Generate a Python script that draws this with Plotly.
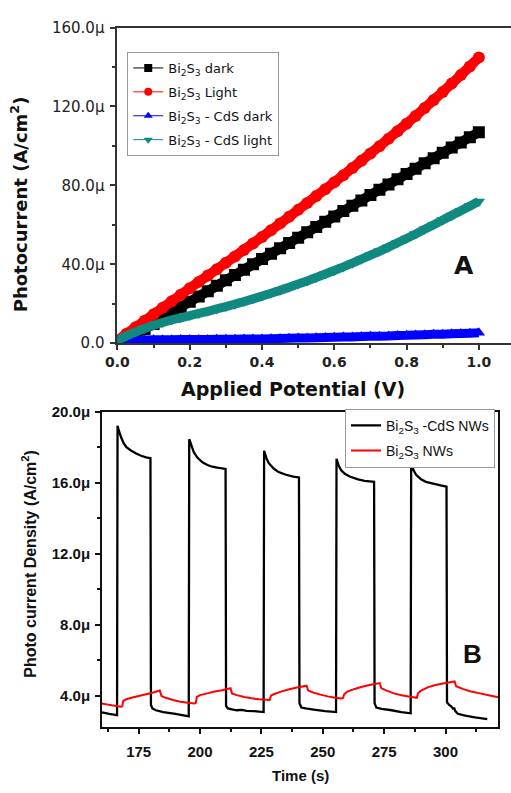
import plotly.graph_objects as go

# ---------------- Panel A: photocurrent vs applied potential ----------------
potential_v = [0.000, 0.025, 0.050, 0.075, 0.100, 0.125, 0.150, 0.175, 0.200, 0.225,
               0.250, 0.275, 0.300, 0.325, 0.350, 0.375, 0.400, 0.425, 0.450, 0.475,
               0.500, 0.525, 0.550, 0.575, 0.600, 0.625, 0.650, 0.675, 0.700, 0.725,
               0.750, 0.775, 0.800, 0.825, 0.850, 0.875, 0.900, 0.925, 0.950, 0.975, 1.000]

# current densities in uA/cm^2
bi2s3_dark = [1.5, 2.4, 4.4, 7.2, 9.8, 12.7, 15.5, 18.3, 21.0, 23.7,
              26.4, 29.1, 31.9, 34.6, 37.3, 40.0, 42.7, 45.4, 48.1, 50.8,
              53.5, 56.2, 58.9, 61.6, 64.3, 67.0, 69.7, 72.4, 75.1, 77.8,
              80.5, 83.1, 85.8, 88.5, 91.2, 93.8, 96.5, 99.2, 101.8, 104.4, 107.0]
bi2s3_light = [1.5, 4.8, 8.1, 11.4, 14.7, 18.0, 21.3, 24.6, 27.9, 31.1,
               34.3, 37.5, 40.8, 44.0, 47.3, 50.6, 53.9, 57.3, 60.7, 64.1,
               67.6, 71.1, 74.6, 78.1, 81.6, 85.2, 88.8, 92.5, 96.2, 99.9,
               103.7, 107.5, 111.3, 115.2, 119.2, 123.3, 127.4, 131.6, 135.9, 140.3, 144.8]
bi2s3_cds_dark = [0.8, 1.1, 1.4, 1.6, 1.8, 1.8, 1.8, 1.9, 1.9, 1.9,
                  1.9, 2.0, 2.0, 2.0, 2.1, 2.1, 2.2, 2.3, 2.4, 2.5,
                  2.6, 2.7, 2.8, 2.9, 3.0, 3.1, 3.2, 3.4, 3.5, 3.6,
                  3.7, 3.9, 4.0, 4.2, 4.3, 4.5, 4.6, 4.8, 4.9, 5.1, 5.3]
bi2s3_cds_light = [1.5, 3.7, 5.7, 7.5, 9.1, 10.5, 11.8, 12.9, 14.0, 15.1,
                   16.2, 17.4, 18.6, 19.8, 21.1, 22.5, 23.9, 25.3, 26.8, 28.4,
                   30.0, 31.6, 33.3, 35.1, 36.9, 38.7, 40.6, 42.6, 44.6, 46.6,
                   48.7, 50.9, 53.1, 55.4, 57.8, 60.1, 62.5, 64.8, 67.2, 69.5, 71.9]

a_xtick_vals = [0.0, 0.2, 0.4, 0.6, 0.8, 1.0]
a_xtick_text = ["0.0", "0.2", "0.4", "0.6", "0.8", "1.0"]
a_ytick_vals = [0, 40, 80, 120, 160]
a_ytick_text = ["0.0", "40.0\u03bc", "80.0\u03bc", "120.0\u03bc", "160.0\u03bc"]

# ---------------- Panel B: transient photocurrent under chopped light ----------------
time_cds = [160.0, 163.0, 166.2, 166.4, 167.0, 168.0, 169.0, 170.0, 172.0, 174.0, 176.0, 178.0, 179.8,
            180.0, 180.6, 182.0, 185.0, 190.0, 195.4,
            195.6, 196.5, 197.5, 199.0, 201.0, 203.0, 205.0, 207.0, 210.4,
            210.6, 211.3, 213.0, 215.0, 217.0, 219.0, 222.0, 225.9,
            226.1, 227.0, 228.0, 230.0, 232.0, 235.0, 238.0, 240.3,
            240.5, 241.3, 243.0, 247.0, 251.0, 255.4,
            255.6, 256.5, 257.5, 259.0, 261.0, 264.0, 267.0, 270.9,
            271.1, 271.8, 274.0, 278.0, 282.0, 285.8,
            286.0, 287.0, 288.0, 290.0, 292.0, 295.0, 298.0, 300.4,
            300.6, 301.5, 302.5, 303.0, 303.6, 304.0, 305.0, 308.0, 312.0, 317.0]
current_cds = [3.08, 3.00, 2.93, 19.20, 18.90, 18.50, 18.20, 18.00, 17.80, 17.65, 17.52, 17.43, 17.38,
               3.50, 3.30, 3.20, 3.10, 3.00, 2.86,
               18.45, 18.10, 17.70, 17.40, 17.15, 17.00, 16.90, 16.85, 16.78,
               3.45, 3.30, 3.25, 3.20, 3.22, 3.16, 3.15, 3.10,
               17.80, 17.40, 17.10, 16.80, 16.60, 16.45, 16.35, 16.30,
               3.60, 3.35, 3.30, 3.22, 3.15, 3.10,
               17.35, 16.95, 16.70, 16.50, 16.35, 16.20, 16.10, 16.05,
               3.60, 3.35, 3.28, 3.20, 3.10, 3.03,
               17.10, 16.70, 16.45, 16.20, 16.05, 15.95, 15.85, 15.78,
               3.65, 3.50, 3.40, 3.30, 3.30, 3.15, 3.00, 2.90, 2.80, 2.70]

time_bare = [160.0, 162.0, 164.0, 166.0, 167.8, 168.3, 168.7, 170.0, 172.0, 175.0, 178.0, 181.0, 183.6,
             184.3, 186.0, 189.0, 192.0, 195.0, 197.8, 198.3, 198.7, 200.0, 203.0, 206.0, 209.0, 212.4,
             213.0, 215.0, 218.0, 221.0, 224.0, 227.0, 228.4, 228.9, 230.0, 233.0, 236.0, 239.0, 243.4,
             244.0, 246.0, 249.0, 252.0, 255.0, 257.8, 258.3, 258.7, 260.0, 263.0, 266.0, 269.0, 273.2,
             273.8, 276.0, 279.0, 282.0, 285.0, 288.3, 288.8, 290.0, 293.0, 296.0, 299.0, 303.7,
             304.3, 307.0, 310.0, 314.0, 318.0, 321.5]
current_bare = [3.58, 3.53, 3.48, 3.44, 3.40, 3.42, 3.72, 3.82, 3.90, 4.00, 4.10, 4.20, 4.31,
                4.00, 3.90, 3.78, 3.68, 3.62, 3.58, 3.62, 3.95, 4.05, 4.15, 4.25, 4.33, 4.44,
                4.15, 4.05, 3.95, 3.87, 3.82, 3.79, 3.78, 4.02, 4.10, 4.25, 4.37, 4.47, 4.58,
                4.32, 4.20, 4.08, 3.98, 3.91, 3.86, 3.90, 4.10, 4.25, 4.40, 4.52, 4.62, 4.73,
                4.45, 4.30, 4.15, 4.05, 3.97, 3.90, 4.15, 4.30, 4.50, 4.62, 4.70, 4.82,
                4.55, 4.40, 4.27, 4.15, 4.03, 3.93]

b_xtick_vals = [175, 200, 225, 250, 275, 300]
b_xtick_text = ["175", "200", "225", "250", "275", "300"]
b_ytick_vals = [4, 8, 12, 16, 20]
b_ytick_text = ["4.0\u03bc", "8.0\u03bc", "12.0\u03bc", "16.0\u03bc", "20.0\u03bc"]

W, H = 511, 793
FONT_A = "DejaVu Sans"
FONT_B = "Liberation Sans"
BI2S3 = "Bi<sub>2</sub>S<sub>3</sub>"


def px_x(p):
    return p / W


def px_y(p):
    return 1 - p / H


fig = go.Figure()

# dense sweeps: a heavy marker band through the points (no legend entry),
# then a light line + small markers that also supplies the legend key
series_a = [
    (bi2s3_dark, BI2S3 + " dark", "#000000", "square", 10),
    (bi2s3_light, BI2S3 + " Light", "#ff0000", "circle", 10),
    (bi2s3_cds_dark, BI2S3 + " - CdS dark", "#0000ff", "triangle-up", 9),
    (bi2s3_cds_light, BI2S3 + " - CdS light", "#108a80", "triangle-down", 9),
]
for i, (vals, name, color, symbol, band) in enumerate(series_a):
    fig.add_trace(go.Scatter(
        x=potential_v, y=vals, mode="lines+markers", showlegend=False, hoverinfo="skip",
        line=dict(color=color, width=band, simplify=False),
        marker=dict(symbol=symbol, size=band + 2, color=color, line=dict(width=0)),
        xaxis="x", yaxis="y",
    ))
    fig.add_trace(go.Scatter(
        x=potential_v, y=vals, name=name, mode="lines+markers",
        line=dict(color=color, width=1, simplify=False),
        marker=dict(symbol=symbol, size=8, color=color, line=dict(width=0)),
        xaxis="x", yaxis="y", legend="legend", legendgroup=f"a{i}",
    ))

fig.add_trace(go.Scatter(
    x=time_cds, y=current_cds, name=BI2S3 + " -CdS NWs", mode="lines",
    line=dict(color="#000000", width=2.3, simplify=False), xaxis="x2", yaxis="y2",
    legend="legend2", legendgroup="b0",
))
fig.add_trace(go.Scatter(
    x=time_bare, y=current_bare, name=BI2S3 + " NWs", mode="lines",
    line=dict(color="#ff0000", width=2, simplify=False), xaxis="x2", yaxis="y2",
    legend="legend2", legendgroup="b1",
))

axis_common = dict(showgrid=False, zeroline=False, showline=True, ticks="outside")

fig.update_layout(
    width=W, height=H,
    margin=dict(l=0, r=0, t=0, b=0),
    paper_bgcolor="white", plot_bgcolor="white",
    xaxis=dict(
        **axis_common, domain=[px_x(108), 1.0], range=[0, 1.089],
        linecolor="#333333", linewidth=2, mirror=True,
        tickvals=a_xtick_vals, ticktext=a_xtick_text, ticklen=5, tickwidth=1.5, tickcolor="#333333",
        tickfont=dict(family=FONT_A, size=14, color="#222222", weight="bold"),
        minor=dict(tickvals=[0.1, 0.3, 0.5, 0.7, 0.9], ticks="outside", ticklen=3,
                   tickwidth=1.5, tickcolor="#333333"),
        anchor="y",
    ),
    yaxis=dict(
        **axis_common, domain=[px_y(342), px_y(19)], range=[0, 160],
        linecolor="#333333", linewidth=2, mirror=False,
        tickvals=a_ytick_vals, ticktext=a_ytick_text, ticklen=5, tickwidth=1.5, tickcolor="#333333",
        tickfont=dict(family=FONT_A, size=15, color="#222222"), ticklabelstandoff=3,
        minor=dict(tickvals=[20, 60, 100, 140], ticks="outside", ticklen=3,
                   tickwidth=1.5, tickcolor="#333333"),
        anchor="x",
    ),
    xaxis2=dict(
        **axis_common, domain=[px_x(92), px_x(498)], range=[160, 321.5],
        linecolor="#111111", linewidth=1.5, mirror=True,
        tickvals=b_xtick_vals, ticktext=b_xtick_text, ticklen=5, tickwidth=1.5, tickcolor="#111111",
        tickfont=dict(family=FONT_B, size=15, color="#111111", weight="bold"), ticklabelstandoff=5,
        minor=dict(tickvals=[162.5, 187.5, 212.5, 237.5, 262.5, 287.5, 312.5], ticks="outside",
                   ticklen=3, tickwidth=1.5, tickcolor="#111111"),
        anchor="y2",
    ),
    yaxis2=dict(
        **axis_common, domain=[px_y(735), px_y(412)], range=[2.24, 20],
        linecolor="#111111", linewidth=1.5, mirror=True,
        tickvals=b_ytick_vals, ticktext=b_ytick_text, ticklen=5, tickwidth=1.5, tickcolor="#111111",
        tickfont=dict(family=FONT_B, size=15, color="#111111", weight="bold"), ticklabelstandoff=2,
        minor=dict(tickvals=[6, 10, 14, 18], ticks="outside", ticklen=3,
                   tickwidth=1.5, tickcolor="#111111"),
        anchor="x2",
    ),
    legend=dict(
        x=px_x(118), y=px_y(44), xanchor="left", yanchor="top",
        bgcolor="white", bordercolor="#999999", borderwidth=1,
        font=dict(family=FONT_A, size=13, color="#111111"),
        tracegroupgap=4,
    ),
    legend2=dict(
        x=px_x(341), y=px_y(409), xanchor="left", yanchor="top",
        bgcolor="white", bordercolor="#999999", borderwidth=1,
        font=dict(family=FONT_B, size=14, color="#111111"),
        tracegroupgap=4,
    ),
    showlegend=True,
)

annotations = [
    dict(text="Applied Potential (V)", x=px_x(288), y=px_y(389),
         font=dict(family=FONT_A, size=19, color="#111111", weight="bold")),
    dict(text="Photocurrent (A/cm<sup>2</sup>)", x=px_x(8), y=px_y(200), textangle=-90,
         font=dict(family=FONT_A, size=18, color="#111111", weight="bold")),
    dict(text="A", x=px_x(463), y=px_y(262),
         font=dict(family=FONT_A, size=25, color="#111111", weight="bold")),
    dict(text="Time (s)", x=px_x(295), y=px_y(784),
         font=dict(family=FONT_B, size=15, color="#111111", weight="bold")),
    dict(text="Photo current Density (A/cm<sup>2</sup>)", x=px_x(18), y=px_y(568), textangle=-90,
         font=dict(family=FONT_B, size=16, color="#111111", weight="bold")),
    dict(text="B", x=px_x(472), y=px_y(660),
         font=dict(family=FONT_B, size=26, color="#111111", weight="bold")),
]
for a in annotations:
    a.update(xref="paper", yref="paper", showarrow=False, xanchor="center", yanchor="middle")
fig.update_layout(annotations=annotations)

fig.write_html("out.html")
